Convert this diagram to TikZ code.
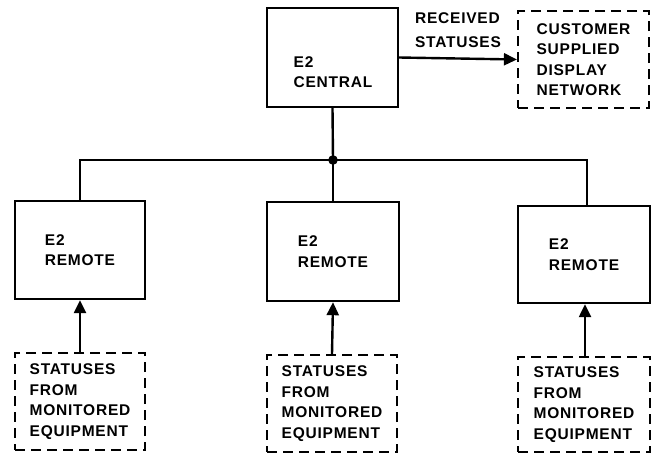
\documentclass[tikz,border=0pt]{standalone}
\usepackage{fontspec}
\newfontfamily\lblfont{Liberation Sans}[LetterSpace=5]
\usetikzlibrary{arrows.meta}
\begin{document}
\begin{tikzpicture}[x=1pt,y=-1pt,
  lbl/.style={font=\lblfont\bfseries\fontsize{15.5}{20.5}\selectfont, align=left, inner sep=0pt},
  solidbox/.style={draw, line width=2.4pt, inner sep=0pt, lbl},
  dashbox/.style={draw, line width=2.2pt, dash pattern=on 10pt off 6pt, inner sep=0pt, lbl},
  wire/.style={line width=2.4pt},
  arr/.style={line width=2.4pt, -{Triangle[length=13pt,width=12pt]}}
]
\useasboundingbox (0,0) rectangle (652,453);

% central
\node[solidbox, minimum width=131pt, minimum height=99pt] (central) at (332.5,57.5) {};
\node[lbl] (centraltxt) at (333,72) {E2\\CENTRAL};

% customer network
\node[dashbox, minimum width=131pt, minimum height=97pt] (cust) at (583.5,59.5)
  {CUSTOMER\\SUPPLIED\\DISPLAY\\NETWORK};

\draw[arr] (central.east) -- (cust.west);
\node[lbl, font=\lblfont\bfseries\fontsize{15.5}{24}\selectfont] (rcv) at (458,30) {RECEIVED\\STATUSES};

% junction
\coordinate (jn) at (333,160);
\fill (jn) circle (4.8pt);

% remotes
\node[solidbox, minimum width=130pt, minimum height=98pt] (remL) at (80,250) {E2\\REMOTE};
\node[solidbox, minimum width=132pt, minimum height=99pt] (remM) at (333,251.5) {E2\\REMOTE};
\node[solidbox, minimum width=132pt, minimum height=97pt] (remR) at (584,254.5) {E2\\REMOTE};

\draw[wire] (central.south) -- (jn);
\draw[wire] (remL.north) |- (jn) -| ([xshift=3pt]remR.north);
\draw[wire] (jn) -- (remM.north);

% status sources
\node[dashbox, minimum width=130pt, minimum height=97pt] (stL) at (80,401.5)
  {STATUSES\\FROM\\MONITORED\\EQUIPMENT};
\node[dashbox, minimum width=130pt, minimum height=97pt] (stM) at (332,403.5)
  {STATUSES\\FROM\\MONITORED\\EQUIPMENT};
\node[dashbox, minimum width=132pt, minimum height=95pt] (stR) at (584,404.5)
  {STATUSES\\FROM\\MONITORED\\EQUIPMENT};

\draw[arr] (stL.north) -- (remL.south);
\draw[arr] (stM.north) -- (remM.south);
\draw[arr] ([xshift=1pt]stR.north) -- ([xshift=1pt]remR.south);
\end{tikzpicture}
\end{document}
